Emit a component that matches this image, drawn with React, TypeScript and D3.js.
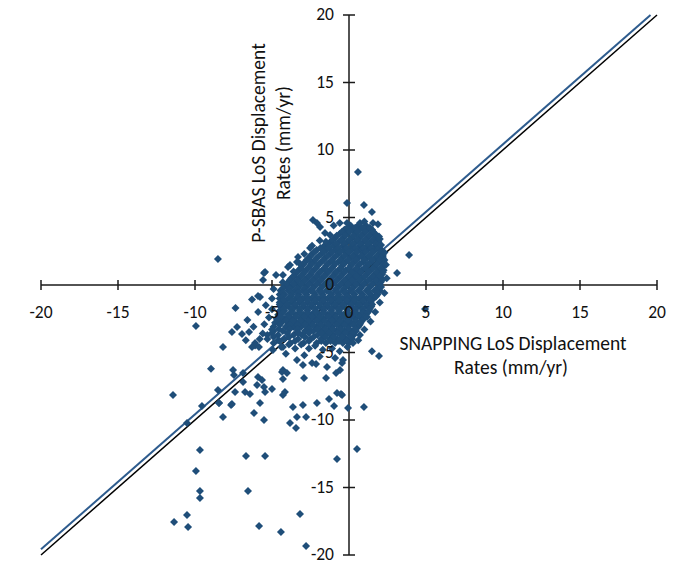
import React from "react";
import * as d3 from "d3";

const xTicks = [-20, -15, -10, -5, 0, 5, 10, 15, 20];
const yTicks = [-20, -15, -10, -5, 0, 5, 10, 15, 20];
const xTitle = ["SNAPPING LoS Displacement", "Rates (mm/yr)"];
const yTitle = ["P-SBAS LoS Displacement", "Rates (mm/yr)"];
const trendSlope = 1.0;
const trendIntercept = 0.42;

// scattered points (SNAPPING, P-SBAS)
const outliers: [number, number][] = [
  [0.58, 8.37], [-0.13, 6.07], [0.97, 5.93], [1.49, 5.41],
  [-2.34, 4.81], [-2.08, 4.59], [-1.88, 4.3], [-1.56, 3.85], [-1.23, 3.7],
  [-2.53, 2.74], [-3.31, 2.07], [-3.38, 1.7], [-3.83, 1.48], [-3.96, 1.33],
  [-4.29, 0.74], [-5.45, 0.96], [-5.58, 0.37], [-5.52, 0.89], [-4.74, 0.74],
  [-8.51, 1.93], [-9.94, -3.04], [-6.3, -1.08], [-7.37, -1.7], [-5.91, -0.81], [-5.78, -0.89],
  [-7.6, -3.48], [-7.27, -3.11], [-6.95, -3.63], [-6.49, -3.48], [-8.18, -4.59],
  [-6.1, -4.48], [-5.85, -4.59], [-6.3, -4.59], [-4.94, -4.81], [-4.29, -4.59],
  [-8.96, -6.2], [-7.53, -6.3], [-7.47, -6.67], [-6.88, -6.52], [-6.88, -7.19],
  [-8.51, -7.78], [-7.4, -7.93], [-6.75, -7.93], [-6.43, -8.07], [-5.97, -7.41],
  [-5.65, -7.04], [-5.52, -7.56], [-5.45, -7.93], [-5.0, -7.7], [-4.35, -6.44],
  [-4.03, -6.52], [-4.29, -6.96], [-4.16, -7.93], [-4.29, -8.15], [-3.38, -5.56],
  [-2.99, -5.93], [-2.4, -5.78], [-2.14, -5.85], [-1.43, -6.07], [-0.84, -6.52],
  [-0.45, -5.78], [-2.92, -6.89], [-1.49, -6.89], [-4.29, -6.3], [-5.91, -6.81],
  [-0.58, -6.3], [-8.44, -8.74], [-7.6, -8.81], [-8.18, -9.78], [-6.17, -9.48],
  [-5.78, -8.74], [-5.52, -10.0], [-3.64, -9.04], [-2.99, -8.89], [-2.08, -8.74],
  [-1.3, -8.44], [-0.78, -8.0], [-0.52, -8.07], [-0.97, -8.96], [-0.06, -9.11],
  [0.97, -9.04], [-0.45, -8.15], [-3.38, -9.78], [-2.79, -9.78], [-3.83, -10.22],
  [-3.44, -10.59], [-9.68, -12.22], [-6.69, -12.67], [-5.45, -12.67], [-0.78, -12.89],
  [0.52, -12.15], [-9.68, -15.26], [-9.68, -15.78], [-6.56, -15.26], [-3.18, -16.96],
  [-5.84, -17.85], [-4.42, -18.3], [-2.79, -19.33], [-11.43, -8.15], [-9.94, -13.78],
  [-10.52, -17.04], [-11.36, -17.56], [-10.45, -17.93], [-9.55, -8.96], [-10.52, -10.22],
  [-7.66, -8.89], [-8.44, -8.74],
  [2.08, 2.96], [3.9, 2.22], [3.12, 0.89], [2.08, -0.15], [4.94, -1.78],
  [1.49, -4.9], [1.95, -5.26], [0.71, -3.7], [0.26, -4.3], [-0.1, -4.6], [-0.39, -5.56],
  [1.36, -1.1], [0.71, -2.8], [1.17, -2.37],
  [-0.13, 4.6], [0.71, 4.6], [1.0, 4.7], [1.56, 4.6], [1.88, 4.5], [1.95, 3.6],
];

// moderately dense fringe around the core
const fringe: [number, number][] = [
  [-5.2, -2.4], [-5.5, -2.9], [-5.0, -3.3], [-5.6, -3.6], [-5.3, -4.0], [-4.6, -4.1],
  [-4.4, -4.6], [-3.9, -4.4], [-3.5, -4.7], [-3.1, -4.4], [-2.6, -4.7], [-2.2, -4.5],
  [-1.7, -4.8], [-1.1, -4.7], [-0.6, -4.9], [-5.9, -2.0], [-6.2, -3.1], [-6.6, -2.6],
  [-5.0, -1.8], [-5.4, -1.5], [-6.7, -4.1], [-4.1, -5.1], [-2.9, -5.2], [-1.9, -5.3],
  [-0.9, -5.4], [-4.9, -0.3], [-5.0, -1.0], [-4.3, 0.2], [-3.6, 1.0], [-3.2, 1.6],
  [-2.9, 2.3], [-2.4, 2.9], [-1.9, 3.3], [-1.5, 3.2], [-2.6, 1.9],
  [2.4, 1.5], [2.45, 0.5], [2.3, -0.6], [2.0, -1.3], [1.7, -2.0], [1.4, -2.7], [1.0, -3.3],
  [0.6, -4.1], [2.3, 2.4], [2.0, 3.4], [-1.0, 4.4], [-0.6, 4.6],
];

// dense core: one row per P-SBAS value, SNAPPING values listed per row
const coreRowY = [
  4.4, 4.1, 3.8, 3.5, 3.2, 2.9, 2.6, 2.3, 2.0, 1.7, 1.4, 1.1, 0.8, 0.5, 0.2, -0.1,
  -0.4, -0.7, -1.0, -1.3, -1.6, -1.9, -2.2, -2.5, -2.8, -3.1, -3.4, -3.7, -4.0, -4.3,
];
const coreRowX = [
  [0.1, 0.6, 1.1],
  [-0.3, 0.25, 0.7, 1.2, 1.5],
  [-0.6, -0.1, 0.45, 0.95, 1.45, 1.7],
  [-0.9, -0.35, 0.2, 0.7, 1.2, 1.7],
  [-1.2, -0.65, -0.1, 0.45, 0.95, 1.45, 1.9],
  [-1.6, -1.0, -0.4, 0.2, 0.7, 1.2, 1.7, 2.0],
  [-2.1, -1.5, -0.9, -0.35, 0.15, 0.7, 1.2, 1.7, 2.1],
  [-2.4, -1.8, -1.25, -0.7, -0.15, 0.4, 0.9, 1.45, 1.95, 2.2],
  [-2.6, -2.1, -1.55, -1.0, -0.45, 0.1, 0.6, 1.15, 1.7, 2.2],
  [-2.85, -2.3, -1.8, -1.25, -0.7, -0.2, 0.35, 0.9, 1.45, 1.95, 2.25],
  [-3.05, -2.55, -2.05, -1.5, -1.0, -0.45, 0.1, 0.6, 1.15, 1.7, 2.2],
  [-3.25, -2.8, -2.3, -1.75, -1.25, -0.7, -0.2, 0.35, 0.85, 1.4, 1.9, 2.25],
  [-3.5, -3.0, -2.5, -2.0, -1.5, -0.95, -0.45, 0.1, 0.6, 1.15, 1.65, 2.15],
  [-3.75, -3.25, -2.75, -2.25, -1.75, -1.2, -0.7, -0.15, 0.35, 0.85, 1.4, 1.9, 2.1],
  [-3.95, -3.5, -3.0, -2.5, -2.0, -1.45, -0.95, -0.4, 0.1, 0.6, 1.1, 1.65, 2.05],
  [-4.2, -3.7, -3.25, -2.75, -2.25, -1.7, -1.2, -0.65, -0.15, 0.35, 0.85, 1.4, 1.95],
  [-4.45, -3.95, -3.5, -3.0, -2.5, -1.95, -1.45, -0.9, -0.4, 0.1, 0.6, 1.15, 1.65, 2.0],
  [-4.5, -4.2, -3.7, -3.25, -2.75, -2.2, -1.7, -1.15, -0.65, -0.15, 0.35, 0.9, 1.4, 1.85],
  [-4.5, -3.95, -3.45, -3.0, -2.45, -1.95, -1.4, -0.9, -0.4, 0.1, 0.65, 1.15, 1.6],
  [-4.5, -4.2, -3.7, -3.2, -2.7, -2.2, -1.65, -1.15, -0.65, -0.15, 0.4, 0.9, 1.4],
  [-4.45, -3.95, -3.45, -2.95, -2.45, -1.9, -1.4, -0.9, -0.4, 0.15, 0.65, 1.2, 1.45],
  [-4.5, -4.2, -3.7, -3.2, -2.7, -2.15, -1.65, -1.15, -0.65, -0.1, 0.4, 0.9, 1.3],
  [-4.6, -3.95, -3.45, -2.95, -2.4, -1.9, -1.4, -0.9, -0.35, 0.15, 0.65, 1.1],
  [-4.7, -4.2, -3.7, -3.15, -2.65, -2.15, -1.65, -1.1, -0.6, -0.1, 0.4, 0.95],
  [-4.8, -4.4, -3.9, -3.4, -2.9, -2.4, -1.85, -1.35, -0.85, -0.35, 0.15, 0.75],
  [-4.9, -4.1, -3.6, -3.1, -2.6, -2.1, -1.6, -1.1, -0.55, -0.05, 0.6],
  [-4.9, -4.3, -3.35, -2.85, -2.3, -1.8, -1.3, -0.8, -0.3, 0.2, 0.45],
  [-5.3, -4.6, -3.6, -3.05, -2.05, -1.55, -1.05, -0.5, 0.05, 0.3],
  [-5.8, -4.2, -3.3, -2.5, -1.8, -1.25, -0.75, -0.2, 0.2],
  [-6.1, -4.9, -3.8, -2.95, -2.1, -1.5, -0.9, -0.4, 0.0],
];

// dense core, in-between rows
const coreMidY = [
  4.25, 3.95, 3.65, 3.35, 3.05, 2.75, 2.45, 2.15, 1.85, 1.55, 1.25, 0.95, 0.65, 0.35, 0.05,
  -0.25, -0.55, -0.85, -1.15, -1.45, -1.75, -2.05, -2.35, -2.65, -2.95, -3.25, -3.55, -3.85, -4.15,
];
const coreMidX = [
  [-0.1, 0.4, 0.9, 1.35],
  [-0.45, 0.05, 0.55, 1.05, 1.55],
  [-0.8, -0.25, 0.3, 0.8, 1.3, 1.75],
  [-1.05, -0.5, 0.05, 0.55, 1.05, 1.55, 1.85],
  [-1.4, -0.85, -0.3, 0.25, 0.75, 1.25, 1.75, 1.95],
  [-1.85, -1.3, -0.7, -0.15, 0.4, 0.95, 1.45, 1.95],
  [-2.25, -1.65, -1.1, -0.55, 0.0, 0.5, 1.05, 1.55, 2.05],
  [-2.5, -1.95, -1.4, -0.85, -0.3, 0.25, 0.8, 1.3, 1.85, 2.2],
  [-2.75, -2.2, -1.65, -1.1, -0.55, -0.05, 0.45, 1.0, 1.5, 2.0, 2.3],
  [-2.95, -2.45, -1.95, -1.4, -0.9, -0.35, 0.2, 0.7, 1.25, 1.8, 2.25],
  [-3.15, -2.65, -2.15, -1.6, -1.1, -0.55, 0.0, 0.5, 1.05, 1.55, 2.05],
  [-3.4, -2.9, -2.4, -1.9, -1.35, -0.85, -0.3, 0.2, 0.75, 1.25, 1.8, 2.2],
  [-3.6, -3.1, -2.6, -2.1, -1.6, -1.05, -0.55, 0.0, 0.5, 1.0, 1.55, 2.0],
  [-3.85, -3.35, -2.85, -2.35, -1.85, -1.3, -0.8, -0.3, 0.2, 0.7, 1.25, 1.75, 2.15],
  [-4.05, -3.6, -3.1, -2.6, -2.1, -1.6, -1.05, -0.55, -0.05, 0.45, 0.95, 1.5, 2.0],
  [-4.3, -3.85, -3.35, -2.85, -2.35, -1.85, -1.3, -0.8, -0.3, 0.2, 0.75, 1.25, 1.8],
  [-4.3, -3.8, -3.3, -2.8, -2.3, -1.8, -1.25, -0.75, -0.25, 0.25, 0.75, 1.3, 1.8],
  [-4.3, -3.8, -3.3, -2.75, -2.25, -1.7, -1.2, -0.7, -0.15, 0.35, 0.85, 1.4, 1.75],
  [-4.25, -3.7, -3.2, -2.7, -2.2, -1.7, -1.15, -0.65, -0.15, 0.35, 0.9, 1.4],
  [-4.5, -4.0, -3.5, -2.95, -2.45, -1.9, -1.4, -0.9, -0.4, 0.15, 0.65, 1.15, 1.5],
  [-4.25, -3.7, -3.2, -2.7, -2.2, -1.65, -1.15, -0.65, -0.15, 0.4, 0.9, 1.35],
  [-4.3, -3.75, -3.2, -2.7, -2.15, -1.65, -1.15, -0.6, -0.1, 0.4, 0.9, 1.2],
  [-4.45, -3.95, -3.45, -2.9, -2.4, -1.9, -1.35, -0.85, -0.35, 0.15, 0.7, 1.0],
  [-4.6, -4.1, -3.65, -3.15, -2.65, -2.1, -1.6, -1.1, -0.6, -0.1, 0.45, 0.85],
  [-4.5, -3.85, -3.35, -2.85, -2.35, -1.85, -1.35, -0.8, -0.3, 0.3, 0.7],
  [-4.55, -3.85, -3.35, -2.6, -2.05, -1.55, -1.05, -0.55, -0.05, 0.4],
  [-5.0, -4.0, -3.3, -2.6, -1.8, -1.3, -0.75, -0.25, 0.25],
  [-4.9, -3.9, -2.85, -2.3, -1.55, -1.0, -0.45, 0.1],
  [-4.5, -3.5, -2.6, -1.8, -1.2, -0.65, -0.15],
];

const W = 684;
const H = 564;
const FONT = "Carlito, Calibri, Lato, 'Liberation Sans', sans-serif";
const MARK = "#1F4E79";

export default function App() {
  const x = d3.scaleLinear().domain([-20, 20]).range([41, 657]);
  const y = d3.scaleLinear().domain([-20, 20]).range([555, 15]);
  const x0 = x(0);
  const y0 = y(0);

  const points: [number, number][] = [];
  coreRowY.forEach((yy, i) => coreRowX[i].forEach((xx) => points.push([xx, yy])));
  coreMidY.forEach((yy, i) => coreMidX[i].forEach((xx) => points.push([xx, yy])));
  fringe.forEach((p) => points.push(p));
  outliers.forEach((p) => points.push(p));

  const diamond = "M0,-4L4,0L0,4L-4,0Z";
  const line = d3.line<[number, number]>().x((d) => x(d[0])).y((d) => y(d[1]));
  const xTop = (20 - trendIntercept) / trendSlope;
  const trend: [number, number][] = [
    [-20, trendIntercept + trendSlope * -20],
    [xTop, 20],
  ];
  const oneToOne: [number, number][] = [[-20, -20], [20, 20]];

  return (
    <svg width={W} height={H} style={{ position: "absolute", left: 0, top: 0, background: "#fff" }}
      fontFamily={FONT}>
      <rect width={W} height={H} fill="#fff" />
      {/* axes */}
      <g stroke="#1a1a1a" strokeWidth={1.5}>
        <line x1={x(-20)} x2={x(20)} y1={y0} y2={y0} />
        <line x1={x0} x2={x0} y1={y(20)} y2={y(-20)} />
        {xTicks.map((t) => (
          <line key={"xt" + t} x1={x(t)} x2={x(t)} y1={y0 - 5} y2={y0 + 5} />
        ))}
        {yTicks.map((t) => (
          <line key={"yt" + t} x1={x0 - 6} x2={x0 + 6} y1={y(t)} y2={y(t)} />
        ))}
      </g>
      {/* lines */}
      <path d={line(oneToOne) || ""} stroke="#000" strokeWidth={1.5} fill="none" />
      <path d={line(trend) || ""} stroke="#2E5C8E" strokeWidth={2} fill="none" />
      {/* points */}
      <g fill={MARK}>
        {points.map((p, i) => (
          <path key={i} d={diamond} transform={`translate(${x(p[0])},${y(p[1])})`} />
        ))}
      </g>
      {/* tick labels */}
      <g fontSize={17.5} fill="#111">
        {xTicks.map((t) => (
          <text key={"xl" + t} x={x(t)} y={318} textAnchor="middle">
            {t}
          </text>
        ))}
        {yTicks.map((t) => (
          <text key={"yl" + t} x={334} y={y(t) + 5} textAnchor="end">
            {t}
          </text>
        ))}
      </g>
      {/* axis titles */}
      <g fontSize={19.5} fill="#111" textAnchor="middle" dominantBaseline="central">
        <text x={513} y={343}>{xTitle[0]}</text>
        <text x={511} y={367}>{xTitle[1]}</text>
        <text transform={`translate(258,143) rotate(-90)`}>{yTitle[0]}</text>
        <text transform={`translate(283,143) rotate(-90)`}>{yTitle[1]}</text>
      </g>
    </svg>
  );
}
